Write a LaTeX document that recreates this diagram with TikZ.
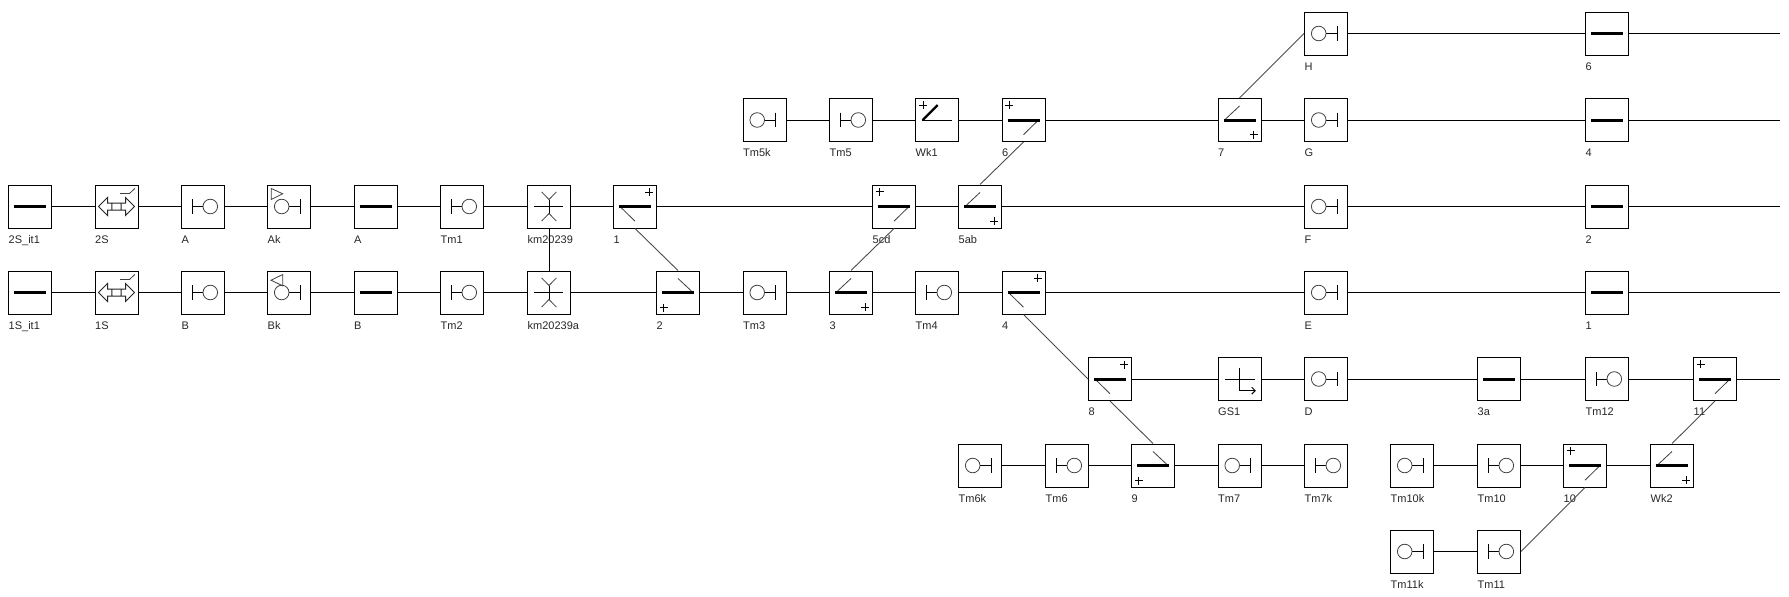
\documentclass[tikz,border=0pt]{standalone}
\usepackage{fontspec}
\setmainfont{Liberation Sans}
\newcommand{\plusje}[2]{\draw[symline,black] (#1-4,#2)--(#1+4,#2) (#1,#2-4)--(#1,#2+4);}
\tikzset{
    symline/.style={line width=0.8pt,draw=black!75},
    barline/.style={line width=3pt,draw=black},
    track/.style={line width=1pt,draw=black},
    wissel/.style={line width=0.9pt,draw=black!70},
    lab/.style={font=\fontsize{11}{13}\selectfont,text=black!85,anchor=north west,inner sep=0pt,text height=8pt,text depth=2pt,xshift=0.5pt,yshift=-6.5pt},
    lbl/.style={label={[lab]south west:#1}},
    blok/.style={draw=black,line width=1pt,minimum size=43pt,inner sep=0pt,fill=white},
    sym/.style={blok,path picture={\begin{scope}[shift={(path picture bounding box.center)}]#1\end{scope}}},
    spoor/.style={sym={\draw[barline] (-16,0)--(16,0);}},
    sigR/.style={sym={\draw[track] (-10.5,-7.3)--(-10.5,7.3) (-10.5,0)--(0,0);\draw[symline] (7.3,0) circle (7.3);}},
    sigL/.style={sym={\draw[track] (11,-7.3)--(11,7.3) (11,0)--(0,0);\draw[symline] (-7.3,0) circle (7.3);}},
    sigUp/.style={sym={\draw[track] (11,-7.3)--(11,7.3) (11,0)--(0,0);\draw[symline] (-7.3,0) circle (7.3);\draw[symline] (-17.7,-18)--(-17.7,-7)--(-6.3,-12.7)--cycle;}},
    sigDn/.style={sym={\draw[track] (11,-7.3)--(11,7.3) (11,0)--(0,0);\draw[symline] (-7.3,0) circle (7.3);\draw[symline] (-6.3,-18)--(-6.3,-6.7)--(-18,-12.3)--cycle;}},
    %wissels: plus corner in the name
    wisNE/.style={sym={\draw[symline] (-15,0)--(0,14.7);\draw[barline] (-16,0)--(16,0);\plusje{14}{-14.3}}},
    wisSW/.style={sym={\draw[symline] (15,0)--(0,-14);\draw[barline] (-16,0)--(16,0);\plusje{-14.3}{15}}},
    wisSE/.style={sym={\draw[symline] (-15,0)--(0,-14);\draw[barline] (-16,0)--(16,0);\plusje{14}{14.7}}},
    wisNW/.style={sym={\draw[symline] (15,0)--(0,14.7);\draw[barline] (-16,0)--(16,0);\plusje{-14.3}{-14.7}}},
    wk/.style={sym={\draw[track] (-14.7,0)--(15,0);\draw[line width=2.2pt] (-14.3,0)--(0.7,-15);\plusje{-14}{-14.7}}},
    gsblok/.style={sym={\draw[track] (-14.3,0)--(15.7,0) (0,-10.7)--(0,11.7)--(15.7,11.7);\draw[track] (12.2,8.2)--(15.7,11.7)--(12.2,15.2);}},
    kruis/.style={sym={\draw[track] (-15,0)--(14,0) (0,-7)--(0,7);\draw[symline] (-7.3,-14.5)--(0,-7)--(7.3,-14.5) (-7.3,14.5)--(0,7)--(7.3,14.5);}},
    grens/.style={sym={\draw[track,draw=black!85] (-18,0)--(-9,-9)--(-9,-3.5)--(9,-3.5)--(9,-9)--(18,0)--(9,9)--(9,3.5)--(-9,3.5)--(-9,9)--cycle (-4.7,-3.5)--(-4.7,3.5) (4.7,-3.5)--(4.7,3.5);\draw[symline] (3.7,-13)--(13,-13)--(18.3,-18);}},
}
\begin{document}
\begin{tikzpicture}[x=1pt,y=-1pt]
    \useasboundingbox (0,0) rectangle (1789,597);

    %row H
    \node[sigL,lbl=H] (sH) at (1326,33.5){};
    \node[spoor,lbl=6] (r6) at (1607,33.5){};
    \coordinate (e6) at (1780,33.5);
    \draw[track] (sH)--(r6)--(e6);

    %row G
    \node[sigL,lbl=Tm5k] (tm5k) at (764.5,120){};
    \node[sigR,lbl=Tm5] (tm5) at (851,120){};
    \node[wk,lbl=Wk1] (wk1) at (937,120){};
    \node[wisNW,lbl=6] (w6) at (1023.5,120){};
    \node[wisSE,lbl=7] (w7) at (1239.5,120){};
    \node[sigL,lbl=G] (sG) at (1326,120){};
    \node[spoor,lbl=4] (r4) at (1607,120){};
    \coordinate (e4) at (1780,120);
    \draw[track] (tm5k)--(tm5)--(wk1)--(w6)--(w7)--(sG)--(r4)--(e4);

    %row 2S
    \node[spoor,lbl=2S\_it1] (it2) at (30,206.5){};
    \node[grens,lbl=2S] (s2) at (116.5,206.5){};
    \node[sigR,lbl=A] (sA) at (203,206.5){};
    \node[sigUp,lbl=Ak] (sAk) at (289,206.5){};
    \node[spoor,lbl=A] (rA) at (375.5,206.5){};
    \node[sigR,lbl=Tm1] (tm1) at (462,206.5){};
    \node[kruis,lbl=km20239] (km) at (549,206.5){};
    \node[wisNE,lbl=1] (w1) at (635,206.5){};
    \node[wisNW,lbl=5cd] (w5cd) at (894,206.5){};
    \node[wisSE,lbl=5ab] (w5ab) at (980,206.5){};
    \node[sigL,lbl=F] (sF) at (1326,206.5){};
    \node[spoor,lbl=2] (r2) at (1607,206.5){};
    \coordinate (e2) at (1780,206.5);
    \draw[track] (it2)--(s2)--(sA)--(sAk)--(rA)--(tm1)--(km)--(w1)--(w5cd)--(w5ab)--(sF)--(r2)--(e2);

    %row 1S
    \node[spoor,lbl=1S\_it1] (it1) at (30,292.5){};
    \node[grens,lbl=1S] (s1) at (116.5,292.5){};
    \node[sigR,lbl=B] (sB) at (203,292.5){};
    \node[sigDn,lbl=Bk] (sBk) at (289,292.5){};
    \node[spoor,lbl=B] (rB) at (375.5,292.5){};
    \node[sigR,lbl=Tm2] (tm2) at (462,292.5){};
    \node[kruis,lbl=km20239a] (kma) at (549,292.5){};
    \node[wisSW,lbl=2] (w2) at (678,292.5){};
    \node[sigL,lbl=Tm3] (tm3) at (764.5,292.5){};
    \node[wisSE,lbl=3] (w3) at (851,292.5){};
    \node[sigR,lbl=Tm4] (tm4) at (937,292.5){};
    \node[wisNE,lbl=4] (w4) at (1023.5,292.5){};
    \node[sigL,lbl=E] (sE) at (1326,292.5){};
    \node[spoor,lbl=1] (r1) at (1607,292.5){};
    \coordinate (e1) at (1780,292.5);
    \draw[track] (it1)--(s1)--(sB)--(sBk)--(rB)--(tm2)--(kma)--(w2)--(tm3)--(w3)--(tm4)--(w4)--(sE)--(r1)--(e1);

    %row D
    \node[wisNE,lbl=8] (w8) at (1110,379){};
    \node[gsblok,lbl=GS1] (gs1) at (1239.5,379){};
    \node[sigL,lbl=D] (sD) at (1326,379){};
    \node[spoor,lbl=3a] (r3a) at (1499,379){};
    \node[sigR,lbl=Tm12] (tm12) at (1607,379){};
    \node[wisNW,lbl=11] (w11) at (1715,379){};
    \coordinate (e11) at (1780,379);
    \draw[track] (w8)--(gs1)--(sD)--(r3a)--(tm12)--(w11)--(e11);

    %row Tm6
    \node[sigL,lbl=Tm6k] (tm6k) at (980,465.5){};
    \node[sigR,lbl=Tm6] (tm6) at (1067,465.5){};
    \node[wisSW,lbl=9] (w9) at (1153,465.5){};
    \node[sigL,lbl=Tm7] (tm7) at (1239.5,465.5){};
    \node[sigR,lbl=Tm7k] (tm7k) at (1326,465.5){};
    \draw[track] (tm6k)--(tm6)--(w9)--(tm7)--(tm7k);

    %row Tm10
    \node[sigL,lbl=Tm10k] (tm10k) at (1412,465.5){};
    \node[sigR,lbl=Tm10] (tm10) at (1499,465.5){};
    \node[wisNW,lbl=10] (w10) at (1585,465.5){};
    \node[wisSE,lbl=Wk2] (wk2) at (1672,465.5){};
    \draw[track] (tm10k)--(tm10)--(w10)--(wk2);

    %row Tm11
    \node[sigL,lbl=Tm11k] (tm11k) at (1412,551.5){};
    \node[sigR,lbl=Tm11] (tm11) at (1499,551.5){};
    \draw[track] (tm11k)--(tm11);

    %links between rows
    \draw[track] (km.south)--(kma.north);
    \draw[wissel] (w1.south)--(w2.north);
    \draw[wissel] (w3.north)--(w5cd.south);
    \draw[wissel] (w5ab.north)--(w6.south);
    \draw[wissel] (w7.north)--(sH.west);
    \draw[wissel] (w4.south)--(w8.west);
    \draw[wissel] (w8.south)--(w9.north);
    \draw[wissel] (wk2.north)--(w11.south);
    \draw[wissel] (tm11.east)--(w10.south);

\end{tikzpicture}
\end{document}
